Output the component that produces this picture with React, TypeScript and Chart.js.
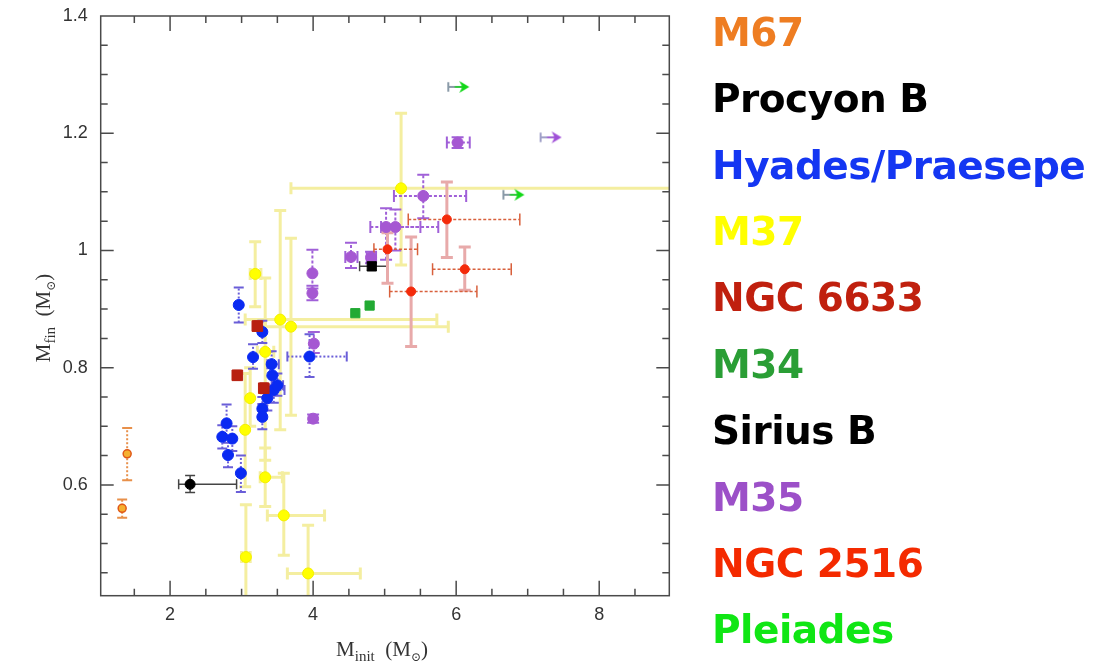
import React, { useEffect, useRef } from "react";
import { Chart, registerables } from "chart.js";

Chart.register(...registerables);

// Axis tick labels
const xTicks = [2, 4, 6, 8];
const yTicks = [0.6, 0.8, 1, 1.2, 1.4];

// Each row: [M_init, M_fin, M_init low, M_init high, M_fin low, M_fin high]
type Row = [number, number, number | null, number | null, number | null, number | null];

const m67: Row[] = [
  [1.4, 0.653, null, null, 0.608, 0.697],
  [1.33, 0.56, null, null, 0.544, 0.575],
];

const procyonB: Row[] = [[2.28, 0.601, 2.12, 2.93, 0.587, 0.616]];

const siriusB: Row[] = [[4.82, 0.973, 4.65, 5.03, 0.966, 0.98]];

const hyadesPraesepe: Row[] = [
  [2.96, 0.907, null, null, 0.877, 0.937],
  [3.29, 0.861, null, null, 0.842, 0.88],
  [3.16, 0.818, null, null, 0.798, 0.84],
  [3.42, 0.806, 3.36, 3.52, 0.785, 0.828],
  [3.95, 0.819, 3.64, 4.47, 0.784, 0.857],
  [3.45, 0.762, 3.36, 3.6, 0.74, 0.787],
  [3.36, 0.748, null, null, 0.727, 0.77],
  [3.5, 0.77, 3.42, 3.58, 0.752, 0.79],
  [3.43, 0.787, null, null, 0.768, 0.806],
  [3.29, 0.73, null, null, 0.712, 0.75],
  [3.29, 0.716, null, null, 0.695, 0.738],
  [2.79, 0.705, null, null, 0.684, 0.737],
  [2.73, 0.682, null, null, 0.662, 0.702],
  [2.87, 0.679, null, null, 0.658, 0.7],
  [2.81, 0.651, null, null, 0.63, 0.672],
  [2.99, 0.62, null, null, 0.588, 0.65],
];

const m37: Row[] = [
  [3.19, 0.96, 3.12, 3.27, 0.904, 1.015],
  [3.54, 0.882, 3.05, 5.73, 0.694, 1.068],
  [3.69, 0.87, 3.33, 5.89, 0.719, 1.021],
  [5.23, 1.106, 3.69, 10.5, 0.975, 1.234],
  [3.33, 0.827, 3.22, 3.45, 0.642, 0.953],
  [3.12, 0.748, null, null, 0.7, 0.8],
  [3.05, 0.694, null, null, 0.597, 0.79],
  [3.33, 0.613, 3.26, 3.57, 0.563, 0.663],
  [3.59, 0.548, 3.36, 4.16, 0.48, 0.62],
  [3.06, 0.477, 3.0, 3.12, 0.3, 0.566],
  [3.93, 0.449, 3.64, 4.66, 0.3, 0.531],
];

const ngc6633: Row[] = [
  [2.94, 0.787, null, null, 0.779, 0.795],
  [3.22, 0.871, null, null, 0.862, 0.88],
  [3.31, 0.765, null, null, 0.756, 0.774],
];

const m34: Row[] = [
  [4.59, 0.893, null, null, null, null],
  [4.79, 0.906, null, null, null, null],
];

const m35: Row[] = [
  [6.02, 1.184, 5.87, 6.19, 1.175, 1.193],
  [5.54, 1.093, 5.13, 6.14, 1.055, 1.129],
  [5.02, 1.04, 4.8, 5.5, 0.984, 1.072],
  [5.15, 1.04, 4.95, 5.75, 1.0, 1.07],
  [4.53, 0.989, 4.45, 4.62, 0.97, 1.013],
  [4.81, 0.988, 4.75, 4.88, 0.978, 0.998],
  [3.99, 0.961, null, null, 0.935, 1.001],
  [3.99, 0.927, null, null, 0.915, 0.94],
  [4.01, 0.841, null, null, 0.825, 0.861],
  [4.0, 0.713, null, null, 0.706, 0.72],
];

// Lower limits on M_init (drawn as right-pointing arrows)
const m35Limits: Row[] = [[7.32, 1.193, null, null, null, null]];
const pleiadesLimits: Row[] = [
  [6.03, 1.279, null, null, null, null],
  [6.8, 1.095, null, null, null, null],
];

const ngc2516: Row[] = [
  [5.87, 1.053, 5.33, 6.89, 0.988, 1.117],
  [6.12, 0.968, 5.67, 6.77, 0.932, 1.006],
  [5.37, 0.93, 5.07, 6.29, 0.836, 1.023],
  [5.04, 1.002, 4.85, 5.46, 0.944, 1.03],
];

const legendNames = [
  "M67",
  "Procyon B",
  "Hyades/Praesepe",
  "M37",
  "NGC 6633",
  "M34",
  "Sirius B",
  "M35",
  "NGC 2516",
  "Pleiades",
];
const legendColors = [
  "#ee7d22",
  "#000000",
  "#1436f2",
  "#ffff00",
  "#c0200e",
  "#2a9e35",
  "#000000",
  "#9c50c8",
  "#f42a00",
  "#10e614",
];

// plot rectangle inside the 1095x663 canvas
const W = 1095;
const H = 663;
const AREA = { left: 100.7, top: 16, right: 669.3, bottom: 595.7 };

type ErrStyle = {
  hColor: string;
  vColor: string;
  hWidth: number;
  vWidth: number;
  hDash: number[];
  vDash: number[];
  cap: number;
};

const toPoints = (rows: Row[]) =>
  rows.map((r) => ({ x: r[0], y: r[1], xlo: r[2], xhi: r[3], ylo: r[4], yhi: r[5] }));

function arrowImage(head: string, tail: string): HTMLCanvasElement {
  const c = document.createElement("canvas");
  c.width = 24;
  c.height = 14;
  const g = c.getContext("2d")!;
  g.lineCap = "round";
  g.strokeStyle = tail;
  g.lineWidth = 2;
  g.beginPath();
  g.moveTo(2, 3);
  g.lineTo(2, 11);
  g.moveTo(2, 7);
  g.lineTo(17, 7);
  g.stroke();
  g.fillStyle = head;
  g.beginPath();
  g.moveTo(23, 7);
  g.lineTo(13, 1);
  g.lineTo(16, 7);
  g.lineTo(13, 13);
  g.closePath();
  g.fill();
  g.strokeStyle = head;
  g.lineWidth = 1.5;
  g.beginPath();
  g.moveTo(9, 7);
  g.lineTo(17, 7);
  g.stroke();
  return c;
}

// Fixes the chart area and the two axes to the exact plot rectangle
const pinAreaPlugin = {
  id: "pinArea",
  afterLayout(chart: any) {
    const ca = chart.chartArea;
    ca.left = AREA.left;
    ca.top = AREA.top;
    ca.right = AREA.right;
    ca.bottom = AREA.bottom;
    ca.width = AREA.right - AREA.left;
    ca.height = AREA.bottom - AREA.top;
    const xs = chart.scales.x;
    const ys = chart.scales.y;
    xs.left = AREA.left;
    xs.right = AREA.right;
    xs.width = ca.width;
    xs.top = AREA.bottom;
    xs.bottom = H;
    xs.height = H - AREA.bottom;
    ys.left = 0;
    ys.right = AREA.left;
    ys.width = AREA.left;
    ys.top = AREA.top;
    ys.bottom = AREA.bottom;
    ys.height = ca.height;
    xs.configure();
    ys.configure();
  },
};

const errorBarsPlugin = {
  id: "errorBars",
  beforeDatasetsDraw(chart: any) {
    const { ctx, chartArea: a } = chart;
    const xs = chart.scales.x;
    const ys = chart.scales.y;
    ctx.save();
    ctx.beginPath();
    ctx.rect(a.left, a.top, a.right - a.left, a.bottom - a.top);
    ctx.clip();
    const sets = chart.data.datasets
      .map((d: any, i: number) => ({ d, i }))
      .sort((p: any, q: any) => (q.d.order || 0) - (p.d.order || 0));
    for (const { d } of sets) {
      const st: ErrStyle | undefined = d.errStyle;
      if (!st) continue;
      for (const p of d.data) {
        const px = xs.getPixelForValue(p.x);
        const py = ys.getPixelForValue(p.y);
        const h = st.cap / 2;
        if (p.xlo != null && p.xhi != null) {
          const x1 = xs.getPixelForValue(p.xlo);
          const x2 = xs.getPixelForValue(p.xhi);
          ctx.strokeStyle = st.hColor;
          ctx.lineWidth = st.hWidth;
          ctx.setLineDash(st.hDash);
          ctx.beginPath();
          ctx.moveTo(x1, py);
          ctx.lineTo(x2, py);
          ctx.stroke();
          ctx.setLineDash([]);
          ctx.beginPath();
          ctx.moveTo(x1, py - h);
          ctx.lineTo(x1, py + h);
          ctx.moveTo(x2, py - h);
          ctx.lineTo(x2, py + h);
          ctx.stroke();
        }
        if (p.ylo != null && p.yhi != null) {
          const y1 = ys.getPixelForValue(p.ylo);
          const y2 = ys.getPixelForValue(p.yhi);
          ctx.strokeStyle = st.vColor;
          ctx.lineWidth = st.vWidth;
          ctx.setLineDash(st.vDash);
          ctx.beginPath();
          ctx.moveTo(px, y1);
          ctx.lineTo(px, y2);
          ctx.stroke();
          ctx.setLineDash([]);
          ctx.beginPath();
          ctx.moveTo(px - h, y1);
          ctx.lineTo(px + h, y1);
          ctx.moveTo(px - h, y2);
          ctx.lineTo(px + h, y2);
          ctx.stroke();
        }
      }
    }
    ctx.restore();
  },
};

function drawParts(
  ctx: CanvasRenderingContext2D,
  parts: { t: string; size: number; dy: number }[],
  cx: number,
  cy: number
) {
  const family = '"Liberation Serif", "DejaVu Serif", serif';
  let total = 0;
  for (const p of parts) {
    ctx.font = `${p.size}px ${family}`;
    total += ctx.measureText(p.t).width;
  }
  let x = cx - total / 2;
  ctx.textBaseline = "alphabetic";
  ctx.textAlign = "left";
  for (const p of parts) {
    ctx.font = `${p.size}px ${family}`;
    ctx.fillText(p.t, x, cy + p.dy);
    x += ctx.measureText(p.t).width;
  }
}

const titleParts = (sub: string) => [
  { t: "M", size: 21, dy: 0 },
  { t: sub, size: 15, dy: 5 },
  { t: "  (M", size: 21, dy: 0 },
  { t: "\u2299", size: 12, dy: 5 },
  { t: ")", size: 21, dy: 0 },
];

const framePlugin = {
  id: "frame",
  afterDraw(chart: any) {
    const { ctx, chartArea: a } = chart;
    const xs = chart.scales.x;
    const ys = chart.scales.y;
    ctx.save();
    ctx.strokeStyle = "#4a4a4a";
    ctx.lineWidth = 1.5;
    ctx.strokeRect(a.left, a.top, a.right - a.left, a.bottom - a.top);
    ctx.beginPath();
    for (let v = 1.5; v < 9; v += 0.5) {
      const len = xTicks.includes(v) ? 15 : 7;
      const px = xs.getPixelForValue(v);
      ctx.moveTo(px, a.bottom);
      ctx.lineTo(px, a.bottom - len);
      ctx.moveTo(px, a.top);
      ctx.lineTo(px, a.top + len);
    }
    for (let k = 9; k < 28; k++) {
      const len = k % 4 === 0 ? 13 : 7;
      const py = ys.getPixelForValue(k * 0.05);
      ctx.moveTo(a.left, py);
      ctx.lineTo(a.left + len, py);
      ctx.moveTo(a.right, py);
      ctx.lineTo(a.right - len, py);
    }
    ctx.stroke();

    // axis titles with subscripts
    ctx.fillStyle = "#333";
    drawParts(ctx, titleParts("init"), (a.left + a.right) / 2 - 3, 656);
    ctx.translate(50, 318);
    ctx.rotate(-Math.PI / 2);
    drawParts(ctx, titleParts("fin"), 0, 0);
    ctx.restore();
  },
};

export default function App() {
  const canvasRef = useRef<HTMLCanvasElement | null>(null);

  useEffect(() => {
    const canvas = canvasRef.current;
    if (!canvas) return;

    const pleiadesArrow = arrowImage("#12d818", "#8a9aa8");
    const m35Arrow = arrowImage("#a050d8", "#a0a0c8");

    const chart = new Chart(canvas, {
      type: "scatter",
      data: {
        datasets: [
          {
            label: "M67",
            data: toPoints(m67),
            pointStyle: "circle",
            pointRadius: 4,
            backgroundColor: "#f5b030",
            borderColor: "#e05818",
            borderWidth: 1.5,
            order: 1,
            errStyle: { hColor: "#e8904a", vColor: "#e8904a", hWidth: 2, vWidth: 2, hDash: [2, 2], vDash: [2, 2], cap: 10 },
          },
          {
            label: "Procyon B",
            data: toPoints(procyonB),
            pointStyle: "circle",
            pointRadius: 5,
            backgroundColor: "#000",
            borderColor: "#000",
            order: 1,
            errStyle: { hColor: "#444", vColor: "#444", hWidth: 1.5, vWidth: 1.5, hDash: [], vDash: [], cap: 10 },
          },
          {
            label: "Sirius B",
            data: toPoints(siriusB),
            pointStyle: "rect",
            pointRadius: 6.5,
            backgroundColor: "#000",
            borderColor: "#000",
            order: 1,
            errStyle: { hColor: "#444", vColor: "#444", hWidth: 1.5, vWidth: 1.5, hDash: [], vDash: [], cap: 10 },
          },
          {
            label: "Hyades/Praesepe",
            data: toPoints(hyadesPraesepe),
            pointStyle: "circle",
            pointRadius: 5.5,
            backgroundColor: "#0a2af2",
            borderColor: "#0a2af2",
            order: 2,
            errStyle: { hColor: "#6a5ed8", vColor: "#6a5ed8", hWidth: 2, vWidth: 2, hDash: [2, 2], vDash: [2, 2], cap: 10 },
          },
          {
            label: "NGC 6633",
            data: toPoints(ngc6633),
            pointStyle: "rect",
            pointRadius: 7.5,
            backgroundColor: "#b82010",
            borderColor: "#b82010",
            order: 1,
            errStyle: { hColor: "#c06050", vColor: "#c06050", hWidth: 1.5, vWidth: 1.5, hDash: [], vDash: [], cap: 8 },
          },
          {
            label: "M34",
            data: toPoints(m34),
            pointStyle: "rect",
            pointRadius: 6.5,
            backgroundColor: "#22aa33",
            borderColor: "#22aa33",
            order: 1,
          },
          {
            label: "M35",
            data: toPoints(m35),
            pointStyle: "circle",
            pointRadius: 5.5,
            backgroundColor: "#a558d2",
            borderColor: "#a558d2",
            order: 2,
            errStyle: { hColor: "#a060d8", vColor: "#a060d8", hWidth: 2, vWidth: 2, hDash: [3, 2], vDash: [3, 2], cap: 12 },
          },
          {
            label: "M35 limit",
            data: toPoints(m35Limits),
            pointStyle: m35Arrow,
            pointRadius: 7,
            order: 1,
          },
          {
            label: "NGC 2516",
            data: toPoints(ngc2516),
            pointStyle: "circle",
            pointRadius: 4.5,
            backgroundColor: "#f42a0a",
            borderColor: "#f42a0a",
            order: 1,
            errStyle: { hColor: "#d8603c", vColor: "#e8aaaa", hWidth: 1.5, vWidth: 3, hDash: [3, 2], vDash: [], cap: 12 },
          },
          {
            label: "Pleiades",
            data: toPoints(pleiadesLimits),
            pointStyle: pleiadesArrow,
            pointRadius: 7,
            order: 1,
          },
          {
            label: "M37",
            data: toPoints(m37),
            pointStyle: "circle",
            pointRadius: 5.5,
            backgroundColor: "#ffff00",
            borderColor: "#f4f000",
            order: 5,
            errStyle: { hColor: "#f4eea0", vColor: "#f4eea0", hWidth: 3, vWidth: 3, hDash: [], vDash: [], cap: 12 },
          },
        ] as any,
      },
      options: {
        responsive: false,
        maintainAspectRatio: false,
        animation: false,
        devicePixelRatio: 1,
        layout: { padding: { left: 0, top: AREA.top, right: W - AREA.right, bottom: 0 } },
        plugins: {
          legend: { display: false },
          tooltip: { enabled: false },
        },
        scales: {
          x: {
            type: "linear",
            min: 1.03,
            max: 8.98,
            grid: { display: false, drawTicks: false },
            border: { display: false },
            afterFit: (s: any) => {
              s.height = H - AREA.bottom;
            },
            afterBuildTicks: (s: any) => {
              s.ticks = xTicks.map((v) => ({ value: v }));
            },
            ticks: {
              padding: 9,
              color: "#333",
              font: { family: '"Liberation Sans", Arial, sans-serif', size: 18 },
              callback: (v: any) => String(v),
            },
          },
          y: {
            type: "linear",
            min: 0.411,
            max: 1.4,
            grid: { display: false, drawTicks: false },
            border: { display: false },
            afterFit: (s: any) => {
              s.width = AREA.left;
            },
            afterBuildTicks: (s: any) => {
              s.ticks = yTicks.map((v) => ({ value: v }));
            },
            ticks: {
              padding: 13,
              color: "#333",
              font: { family: '"Liberation Sans", Arial, sans-serif', size: 18 },
              callback: (v: any) => String(Math.round(v * 10) / 10),
            },
          },
        },
      } as any,
      plugins: [pinAreaPlugin, errorBarsPlugin, framePlugin],
    });

    return () => chart.destroy();
  }, []);

  return (
    <div
      style={{
        position: "absolute",
        left: 0,
        top: 0,
        width: W,
        height: H,
        background: "#fff",
        overflow: "hidden",
      }}
    >
      <canvas ref={canvasRef} width={W} height={H} style={{ width: W, height: H, display: "block" }} />
      {legendNames.map((name, i) => (
        <div
          key={name}
          style={{
            position: "absolute",
            left: 712,
            top: 32 + i * 66.4 - 19.3,
            height: 40,
            lineHeight: "40px",
            fontFamily: '"DejaVu Sans", Verdana, sans-serif',
            fontWeight: "bold",
            fontSize: 39,
            letterSpacing: "-0.5px",
            whiteSpace: "nowrap",
            color: legendColors[i],
          }}
        >
          {name}
        </div>
      ))}
    </div>
  );
}
